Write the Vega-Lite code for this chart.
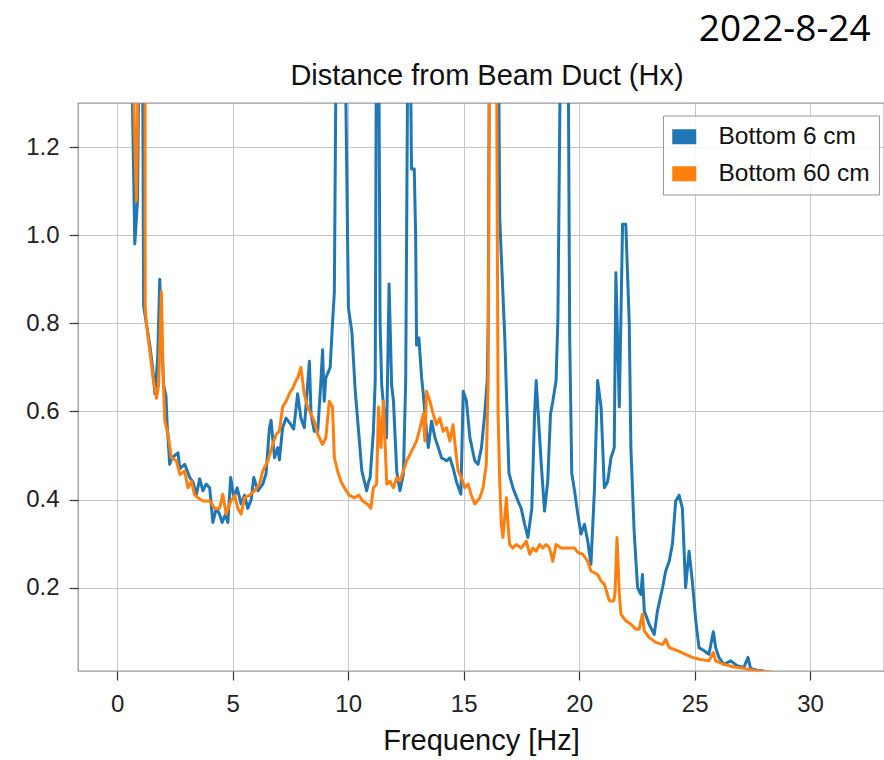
{
  "$schema": "https://vega.github.io/schema/vega-lite/v6.json",
  "background": "white",
  "padding": {"left": 24, "top": 11, "right": 0, "bottom": 0},
  "title": {"text": "2022-8-24", "anchor": "end", "font": "Open Sans", "fontSize": 37, "fontWeight": "normal", "color": "#000000", "dx": -14, "offset": 12},
  "datasets": {
    "b6": [
      {"f":0.56,"v":1.6},{"f":0.76,"v":0.98},{"f":0.88,"v":1.08},{"f":0.97,"v":1.6},{"f":1.10,"v":1.4},{"f":1.14,"v":0.84},{"f":1.26,"v":0.80},{"f":1.41,"v":0.75},{"f":1.53,"v":0.70},{"f":1.63,"v":0.64},{"f":1.75,"v":0.72},{"f":1.84,"v":0.90},{"f":1.92,"v":0.76},{"f":2.01,"v":0.66},{"f":2.11,"v":0.635},{"f":2.16,"v":0.57},{"f":2.27,"v":0.48},{"f":2.37,"v":0.495},{"f":2.49,"v":0.50},{"f":2.63,"v":0.506},{"f":2.71,"v":0.47},{"f":2.92,"v":0.48},{"f":3.14,"v":0.45},{"f":3.28,"v":0.44},{"f":3.42,"v":0.41},{"f":3.57,"v":0.447},{"f":3.71,"v":0.42},{"f":3.85,"v":0.435},{"f":4.00,"v":0.427},{"f":4.14,"v":0.348},{"f":4.29,"v":0.38},{"f":4.43,"v":0.367},{"f":4.54,"v":0.348},{"f":4.69,"v":0.367},{"f":4.79,"v":0.348},{"f":4.91,"v":0.45},{"f":5.05,"v":0.404},{"f":5.19,"v":0.427},{"f":5.36,"v":0.39},{"f":5.51,"v":0.41},{"f":5.65,"v":0.38},{"f":5.80,"v":0.40},{"f":5.91,"v":0.45},{"f":6.09,"v":0.42},{"f":6.30,"v":0.435},{"f":6.44,"v":0.458},{"f":6.59,"v":0.563},{"f":6.66,"v":0.58},{"f":6.81,"v":0.495},{"f":6.95,"v":0.518},{"f":7.02,"v":0.49},{"f":7.16,"v":0.563},{"f":7.31,"v":0.585},{"f":7.52,"v":0.57},{"f":7.64,"v":0.56},{"f":7.81,"v":0.64},{"f":7.95,"v":0.585},{"f":8.10,"v":0.563},{"f":8.24,"v":0.66},{"f":8.32,"v":0.714},{"f":8.39,"v":0.594},{"f":8.53,"v":0.555},{"f":8.68,"v":0.555},{"f":8.82,"v":0.67},{"f":8.89,"v":0.74},{"f":8.96,"v":0.623},{"f":9.03,"v":0.676},{"f":9.22,"v":0.70},{"f":9.32,"v":0.80},{"f":9.40,"v":0.87},{"f":9.50,"v":1.6},{"f":9.83,"v":1.6},{"f":10.01,"v":0.835},{"f":10.16,"v":0.78},{"f":10.30,"v":0.65},{"f":10.52,"v":0.51},{"f":10.59,"v":0.465},{"f":10.80,"v":0.42},{"f":10.88,"v":0.44},{"f":10.95,"v":0.45},{"f":11.09,"v":0.555},{"f":11.17,"v":0.67},{"f":11.23,"v":1.6},{"f":11.31,"v":1.6},{"f":11.38,"v":0.80},{"f":11.45,"v":0.66},{"f":11.59,"v":0.578},{"f":11.66,"v":0.54},{"f":11.77,"v":0.889},{"f":11.88,"v":0.66},{"f":11.96,"v":0.623},{"f":12.10,"v":0.465},{"f":12.24,"v":0.42},{"f":12.39,"v":0.458},{"f":12.49,"v":0.67},{"f":12.60,"v":1.6},{"f":12.68,"v":1.5},{"f":12.74,"v":1.15},{"f":12.86,"v":1.15},{"f":12.92,"v":1.0},{"f":12.96,"v":0.75},{"f":13.06,"v":0.767},{"f":13.18,"v":0.676},{"f":13.25,"v":0.64},{"f":13.39,"v":0.555},{"f":13.47,"v":0.518},{"f":13.61,"v":0.578},{"f":13.76,"v":0.54},{"f":13.90,"v":0.518},{"f":14.04,"v":0.495},{"f":14.26,"v":0.488},{"f":14.40,"v":0.495},{"f":14.54,"v":0.472},{"f":14.69,"v":0.44},{"f":14.88,"v":0.412},{"f":14.98,"v":0.646},{"f":15.12,"v":0.623},{"f":15.27,"v":0.54},{"f":15.48,"v":0.488},{"f":15.62,"v":0.48},{"f":15.77,"v":0.518},{"f":15.91,"v":0.594},{"f":16.02,"v":0.67},{"f":16.06,"v":0.80},{"f":16.13,"v":1.6},{"f":16.49,"v":1.6},{"f":16.56,"v":1.04},{"f":16.78,"v":0.767},{"f":16.83,"v":0.68},{"f":16.96,"v":0.46},{"f":17.13,"v":0.427},{"f":17.35,"v":0.397},{"f":17.49,"v":0.38},{"f":17.64,"v":0.344},{"f":17.78,"v":0.314},{"f":17.95,"v":0.38},{"f":18.07,"v":0.594},{"f":18.14,"v":0.67},{"f":18.21,"v":0.61},{"f":18.36,"v":0.48},{"f":18.50,"v":0.374},{"f":18.64,"v":0.442},{"f":18.76,"v":0.594},{"f":18.86,"v":0.623},{"f":19.00,"v":0.67},{"f":19.08,"v":0.81},{"f":19.22,"v":1.6},{"f":19.51,"v":1.6},{"f":19.59,"v":0.77},{"f":19.68,"v":0.46},{"f":19.80,"v":0.42},{"f":19.94,"v":0.367},{"f":20.08,"v":0.322},{"f":20.23,"v":0.344},{"f":20.37,"v":0.306},{"f":20.51,"v":0.253},{"f":20.66,"v":0.42},{"f":20.80,"v":0.67},{"f":20.95,"v":0.61},{"f":21.09,"v":0.427},{"f":21.23,"v":0.44},{"f":21.38,"v":0.495},{"f":21.52,"v":0.518},{"f":21.59,"v":0.915},{"f":21.67,"v":0.75},{"f":21.74,"v":0.61},{"f":21.88,"v":1.025},{"f":22.02,"v":1.025},{"f":22.17,"v":0.80},{"f":22.24,"v":0.518},{"f":22.38,"v":0.329},{"f":22.53,"v":0.20},{"f":22.67,"v":0.185},{"f":22.74,"v":0.23},{"f":22.82,"v":0.147},{"f":23.03,"v":0.117},{"f":23.25,"v":0.094},{"f":23.39,"v":0.147},{"f":23.61,"v":0.20},{"f":23.75,"v":0.238},{"f":23.90,"v":0.26},{"f":24.04,"v":0.30},{"f":24.18,"v":0.397},{"f":24.33,"v":0.41},{"f":24.47,"v":0.38},{"f":24.61,"v":0.20},{"f":24.76,"v":0.283},{"f":24.90,"v":0.215},{"f":25.05,"v":0.125},{"f":25.19,"v":0.064},{"f":25.41,"v":0.057},{"f":25.62,"v":0.049},{"f":25.81,"v":0.10},{"f":25.91,"v":0.064},{"f":26.05,"v":0.042},{"f":26.27,"v":0.026},{"f":26.56,"v":0.034},{"f":26.84,"v":0.023},{"f":27.13,"v":0.019},{"f":27.31,"v":0.042},{"f":27.42,"v":0.017},{"f":27.71,"v":0.013},{"f":28.00,"v":0.011}
    ],
    "b60": [
      {"f":0.56,"v":1.6},{"f":0.83,"v":1.077},{"f":0.97,"v":1.6},{"f":1.20,"v":1.6},{"f":1.21,"v":0.835},{"f":1.26,"v":0.80},{"f":1.41,"v":0.737},{"f":1.55,"v":0.676},{"f":1.70,"v":0.63},{"f":1.79,"v":0.66},{"f":1.91,"v":0.873},{"f":1.99,"v":0.67},{"f":2.06,"v":0.578},{"f":2.20,"v":0.548},{"f":2.34,"v":0.495},{"f":2.56,"v":0.488},{"f":2.71,"v":0.457},{"f":2.92,"v":0.465},{"f":3.06,"v":0.427},{"f":3.21,"v":0.442},{"f":3.35,"v":0.41},{"f":3.50,"v":0.404},{"f":3.71,"v":0.397},{"f":4.00,"v":0.397},{"f":4.22,"v":0.38},{"f":4.43,"v":0.38},{"f":4.57,"v":0.412},{"f":4.72,"v":0.367},{"f":4.86,"v":0.39},{"f":5.08,"v":0.41},{"f":5.22,"v":0.38},{"f":5.36,"v":0.367},{"f":5.51,"v":0.404},{"f":5.73,"v":0.41},{"f":5.94,"v":0.42},{"f":6.16,"v":0.435},{"f":6.30,"v":0.465},{"f":6.52,"v":0.488},{"f":6.73,"v":0.525},{"f":6.88,"v":0.548},{"f":7.02,"v":0.555},{"f":7.16,"v":0.61},{"f":7.31,"v":0.623},{"f":7.45,"v":0.64},{"f":7.60,"v":0.653},{"f":7.74,"v":0.67},{"f":7.81,"v":0.676},{"f":7.95,"v":0.70},{"f":8.10,"v":0.64},{"f":8.24,"v":0.61},{"f":8.39,"v":0.594},{"f":8.53,"v":0.578},{"f":8.68,"v":0.548},{"f":8.89,"v":0.525},{"f":9.03,"v":0.54},{"f":9.18,"v":0.623},{"f":9.32,"v":0.61},{"f":9.40,"v":0.495},{"f":9.54,"v":0.465},{"f":9.68,"v":0.442},{"f":9.83,"v":0.427},{"f":10.04,"v":0.41},{"f":10.26,"v":0.404},{"f":10.47,"v":0.41},{"f":10.62,"v":0.397},{"f":10.83,"v":0.39},{"f":10.98,"v":0.38},{"f":11.09,"v":0.427},{"f":11.23,"v":0.435},{"f":11.31,"v":0.61},{"f":11.42,"v":0.518},{"f":11.52,"v":0.623},{"f":11.67,"v":0.435},{"f":11.81,"v":0.442},{"f":11.96,"v":0.427},{"f":12.10,"v":0.45},{"f":12.24,"v":0.442},{"f":12.39,"v":0.465},{"f":12.53,"v":0.488},{"f":12.68,"v":0.503},{"f":12.82,"v":0.518},{"f":12.96,"v":0.533},{"f":13.11,"v":0.563},{"f":13.25,"v":0.594},{"f":13.32,"v":0.533},{"f":13.39,"v":0.646},{"f":13.54,"v":0.623},{"f":13.68,"v":0.594},{"f":13.82,"v":0.57},{"f":13.97,"v":0.585},{"f":14.11,"v":0.555},{"f":14.26,"v":0.563},{"f":14.40,"v":0.533},{"f":14.54,"v":0.57},{"f":14.64,"v":0.518},{"f":14.76,"v":0.465},{"f":14.90,"v":0.45},{"f":15.05,"v":0.427},{"f":15.19,"v":0.435},{"f":15.33,"v":0.41},{"f":15.48,"v":0.39},{"f":15.70,"v":0.404},{"f":15.84,"v":0.427},{"f":15.98,"v":0.48},{"f":16.06,"v":0.67},{"f":16.13,"v":1.6},{"f":16.41,"v":1.6},{"f":16.49,"v":0.594},{"f":16.56,"v":0.442},{"f":16.63,"v":0.344},{"f":16.70,"v":0.314},{"f":16.85,"v":0.404},{"f":16.92,"v":0.344},{"f":16.99,"v":0.298},{"f":17.13,"v":0.29},{"f":17.28,"v":0.298},{"f":17.49,"v":0.29},{"f":17.71,"v":0.306},{"f":17.86,"v":0.276},{"f":18.00,"v":0.29},{"f":18.14,"v":0.283},{"f":18.29,"v":0.298},{"f":18.43,"v":0.29},{"f":18.57,"v":0.298},{"f":18.72,"v":0.29},{"f":18.86,"v":0.26},{"f":19.00,"v":0.298},{"f":19.22,"v":0.29},{"f":19.51,"v":0.29},{"f":19.80,"v":0.29},{"f":19.94,"v":0.28},{"f":20.16,"v":0.276},{"f":20.37,"v":0.26},{"f":20.51,"v":0.238},{"f":20.80,"v":0.23},{"f":20.95,"v":0.215},{"f":21.09,"v":0.208},{"f":21.31,"v":0.17},{"f":21.49,"v":0.17},{"f":21.55,"v":0.185},{"f":21.64,"v":0.314},{"f":21.74,"v":0.185},{"f":21.81,"v":0.14},{"f":22.02,"v":0.125},{"f":22.24,"v":0.117},{"f":22.45,"v":0.106},{"f":22.60,"v":0.106},{"f":22.74,"v":0.14},{"f":22.82,"v":0.102},{"f":23.03,"v":0.087},{"f":23.32,"v":0.076},{"f":23.61,"v":0.071},{"f":23.75,"v":0.083},{"f":23.90,"v":0.064},{"f":24.26,"v":0.057},{"f":24.61,"v":0.049},{"f":24.90,"v":0.042},{"f":25.26,"v":0.037},{"f":25.62,"v":0.034},{"f":25.81,"v":0.053},{"f":25.91,"v":0.034},{"f":26.27,"v":0.026},{"f":26.70,"v":0.020},{"f":27.13,"v":0.017},{"f":27.42,"v":0.014},{"f":27.85,"v":0.011},{"f":28.36,"v":0.008}
    ]
  },
  "vconcat": [
    {
      "width": 806,
      "height": 568,
      "title": {"text": "Distance from Beam Duct (Hx)", "anchor": "middle", "font": "Liberation Sans", "fontSize": 29, "fontWeight": "normal", "color": "#111111", "dx": 6, "offset": 12},
      "layer": [
        {
          "data": {"name": "b6"},
          "mark": {"type": "line", "strokeWidth": 3, "strokeJoin": "round", "clip": true},
          "encoding": {
            "x": {"field": "f", "type": "quantitative"},
            "y": {"field": "v", "type": "quantitative"},
            "color": {"datum": "Bottom 6 cm"}
          }
        },
        {
          "data": {"name": "b60"},
          "mark": {"type": "line", "strokeWidth": 3, "strokeJoin": "round", "clip": true},
          "encoding": {
            "x": {"field": "f", "type": "quantitative"},
            "y": {"field": "v", "type": "quantitative"},
            "color": {"datum": "Bottom 60 cm"}
          }
        }
      ],
      "encoding": {
        "x": {"field": "f", "type": "quantitative", "title": "Frequency [Hz]",
              "scale": {"domain": [-1.7, 33.2], "nice": false, "zero": false},
              "axis": {"values": [0, 5, 10, 15, 20, 25, 30], "format": "d"}},
        "y": {"field": "v", "type": "quantitative", "title": null,
              "scale": {"domain": [0.011, 1.3], "nice": false, "zero": false},
              "axis": {"values": [0.2, 0.4, 0.6, 0.8, 1.0, 1.2], "format": ".1f"}},
        "color": {"type": "nominal",
                  "scale": {"domain": ["Bottom 6 cm", "Bottom 60 cm"], "range": ["#1f77b4", "#ff7f0e"]},
                  "legend": {"title": null, "orient": "none", "legendX": 585, "legendY": 12.5,
                             "symbolType": "M-1,-0.625H1V0.625H-1Z", "symbolSize": 576, "symbolStrokeWidth": 0,
                             "labelFont": "Liberation Sans", "labelFontSize": 24.5, "labelColor": "#111111",
                             "labelOffset": 22, "rowPadding": 12, "padding": 9,
                             "strokeColor": "#999999", "fillColor": "rgba(255,255,255,0.8)", "cornerRadius": 0,
                             "encode": {"symbols": {"update": {"fill": {"scale": "color", "field": "value"}, "stroke": {"value": "transparent"}, "opacity": {"value": 1}}}}}}
      }
    }
  ],
  "config": {
    "view": {"stroke": "#999999", "strokeWidth": 1.3},
    "axis": {
      "domain": false,
      "grid": true, "gridColor": "#c6c6c6", "gridWidth": 1,
      "ticks": true, "tickColor": "#333333", "tickSize": 9, "tickWidth": 1.2,
      "labelFont": "Liberation Sans", "labelFontSize": 24, "labelColor": "#222222",
      "titleFont": "Liberation Sans", "titleFontSize": 29, "titleFontWeight": "normal", "titleColor": "#111111"
    },
    "axisX": {"labelPadding": 12, "titlePadding": 10},
    "axisY": {"labelPadding": 10},
    "concat": {"spacing": 0}
  }
}
